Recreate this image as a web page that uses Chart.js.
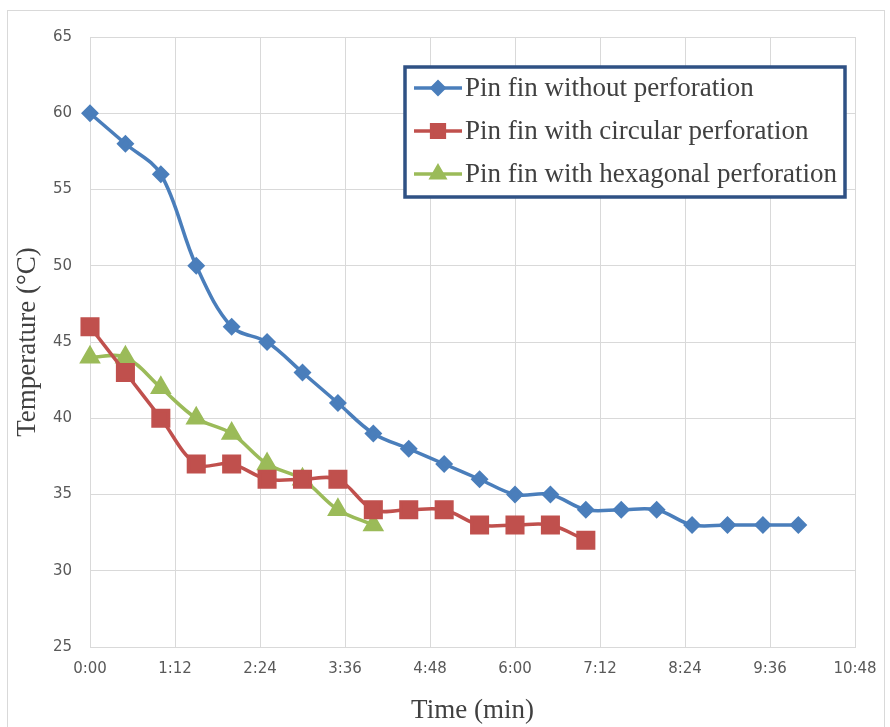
<!DOCTYPE html>
<html>
<head>
<meta charset="utf-8">
<script src="https://cdn.jsdelivr.net/npm/chart.js@4.4.1/dist/chart.umd.min.js"></script>
<style>
  html, body { margin: 0; padding: 0; background: #ffffff; }
  #wrap { position: relative; width: 890px; height: 727px; }
</style>
</head>
<body>
<div id="wrap"><canvas id="chart" width="890" height="727"></canvas></div>
<script>
// Sample times in seconds (one reading every 30 s)
const timesWithout  = [0, 30, 60, 90, 120, 150, 180, 210, 240, 270, 300, 330, 360, 390, 420, 450, 480, 510, 540, 570, 600];
const timesCircular = [0, 30, 60, 90, 120, 150, 180, 210, 240, 270, 300, 330, 360, 390, 420];
const timesHexagonal = [0, 30, 60, 90, 120, 150, 180, 210, 240];

// Measured temperatures (°C)
const tempWithout   = [60, 58, 56, 50, 46, 45, 43, 41, 39, 38, 37, 36, 35, 35, 34, 34, 34, 33, 33, 33, 33];
const tempCircular  = [46, 43, 40, 37, 37, 36, 36, 36, 34, 34, 34, 33, 33, 33, 32];
const tempHexagonal = [44, 44, 42, 40, 39, 37, 36, 34, 33];

const seriesLabels = [
  'Pin fin without perforation',
  'Pin fin with circular perforation',
  'Pin fin with hexagonal perforation'
];

const xTickStep = 72;   // 1:12 between grid lines
const xMax = 648;       // 10:48
const yMin = 25, yMax = 65, yStep = 5;

const pairs = (t, v) => t.map((x, i) => ({ x: x, y: v[i] }));

function fmtTime(sec) {
  const m = Math.floor(sec / 60);
  const s = Math.round(sec - m * 60);
  return m + ':' + (s < 10 ? '0' : '') + s;
}

const serif = '"Liberation Serif", "Times New Roman", serif';
const sans = '"DejaVu Sans", Verdana, sans-serif';

// Light frame around the whole figure
const framePlugin = {
  id: 'frame',
  beforeDraw(chart) {
    const ctx = chart.ctx;
    ctx.save();
    ctx.fillStyle = '#ffffff';
    ctx.fillRect(0, 0, chart.width, chart.height);
    ctx.strokeStyle = '#d9d9d9';
    ctx.lineWidth = 1;
    ctx.strokeRect(7.5, 10.5, 877, 730);
    ctx.restore();
  }
};

// Boxed legend placed inside the plot area
const boxLegendPlugin = {
  id: 'boxLegend',
  afterDatasetsDraw(chart) {
    const ctx = chart.ctx;
    const box = { x: 405, y: 67, w: 440, h: 130 };
    const markerSize = { rectRot: 6, rect: 9, triangle: 7.5 };
    ctx.save();
    ctx.fillStyle = '#ffffff';
    ctx.fillRect(box.x, box.y, box.w, box.h);
    ctx.strokeStyle = '#2f5184';
    ctx.lineWidth = 3.5;
    ctx.strokeRect(box.x, box.y, box.w, box.h);
    const rowY = [88, 131, 174];
    chart.data.datasets.forEach((ds, i) => {
      const y = rowY[i];
      ctx.strokeStyle = ds.borderColor;
      ctx.lineWidth = ds.borderWidth;
      ctx.beginPath();
      ctx.moveTo(414, y);
      ctx.lineTo(462, y);
      ctx.stroke();
      ctx.fillStyle = ds.pointBackgroundColor;
      ctx.strokeStyle = ds.pointBorderColor;
      Chart.helpers.drawPoint(ctx, {
        pointStyle: ds.pointStyle,
        radius: markerSize[ds.pointStyle],
        borderWidth: 1,
        rotation: 0
      }, 438, y);
      ctx.fillStyle = '#404040';
      ctx.font = '27px ' + serif;
      ctx.textBaseline = 'middle';
      ctx.textAlign = 'left';
      ctx.fillText(ds.label, 465, y + 1);
    });
    ctx.restore();
  }
};

const blue = '#4a7ebb', red = '#c0504d', green = '#9bbb59';

new Chart(document.getElementById('chart'), {
  type: 'line',
  data: {
    datasets: [
      {
        label: seriesLabels[0], data: pairs(timesWithout, tempWithout),
        borderColor: blue, backgroundColor: blue, pointBackgroundColor: blue, pointBorderColor: blue,
        borderWidth: 3.5, pointStyle: 'rectRot', pointRadius: 6.5, tension: 0.35, clip: false
      },
      {
        label: seriesLabels[1], data: pairs(timesCircular, tempCircular),
        borderColor: red, backgroundColor: red, pointBackgroundColor: red, pointBorderColor: red,
        borderWidth: 3.5, pointStyle: 'rect', pointRadius: 11, tension: 0.35, clip: false
      },
      {
        label: seriesLabels[2], data: pairs(timesHexagonal, tempHexagonal),
        borderColor: green, backgroundColor: green, pointBackgroundColor: green, pointBorderColor: green,
        borderWidth: 3.5, pointStyle: 'triangle', pointRadius: 9, tension: 0.35, clip: false
      }
    ]
  },
  options: {
    responsive: false,
    animation: false,
    events: [],
    layout: { padding: { top: 37, right: 35, left: 0, bottom: 0 } },
    plugins: { legend: { display: false }, tooltip: { enabled: false } },
    scales: {
      x: {
        type: 'linear', min: 0, max: xMax,
        grid: { color: '#d9d9d9', lineWidth: 1, drawTicks: false },
        border: { color: '#d9d9d9' },
        ticks: {
          stepSize: xTickStep, autoSkip: false, maxRotation: 0, padding: 13,
          color: '#595959', font: { family: sans, size: 15 },
          callback: v => fmtTime(v)
        },
        title: {
          display: true, text: 'Time (min)', color: '#404040',
          font: { family: serif, size: 27 },
          padding: { top: 4, bottom: 0 }
        },
        afterFit: s => { s.height = 80; }
      },
      y: {
        min: yMin, max: yMax,
        grid: { color: '#d9d9d9', lineWidth: 1, drawTicks: false },
        border: { color: '#d9d9d9' },
        ticks: {
          stepSize: yStep, padding: 18,
          color: '#595959', font: { family: sans, size: 15 }
        },
        title: {
          display: true, text: 'Temperature (°C)', color: '#404040',
          font: { family: serif, size: 27 },
          padding: { top: 12, bottom: 4 }
        },
        afterFit: s => { s.width = 90; }
      }
    }
  },
  plugins: [framePlugin, boxLegendPlugin]
});
</script>
</body>
</html>
